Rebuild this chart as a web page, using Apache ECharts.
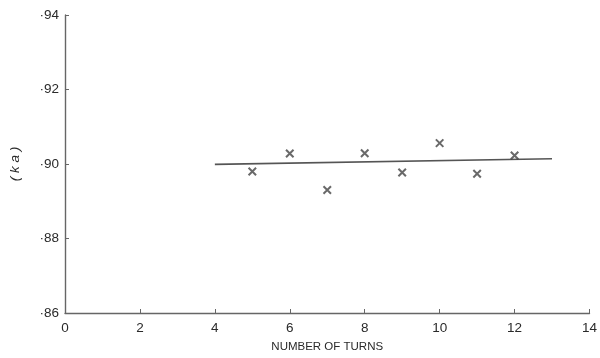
<!DOCTYPE html>
<html>
<head>
<meta charset="utf-8">
<script src="https://cdn.jsdelivr.net/npm/echarts@6/dist/echarts.min.js"></script>
<style>
  html, body { margin: 0; padding: 0; background: #fff; }
  #chart { width: 600px; height: 358px; }
</style>
</head>
<body>
<div id="chart"></div>
<script>
// Measured points: turns vs ka
const turns = [5, 6, 7, 8, 9, 10, 11, 12];
const kaValues = [0.8980, 0.9028, 0.8930, 0.9029, 0.8977, 0.9056, 0.8974, 0.9023];
// Fitted straight line end points
const fitTurns = [4, 13];
const fitKa = [0.8999, 0.9014];
// Axis ranges
const xTicks = [0, 14, 2];
const yTicks = [0.86, 0.94, 0.02];

const ink = '#444';
const crossPath = 'path://M0,0L10,10M10,0L0,10';

const chart = echarts.init(document.getElementById('chart'));
chart.setOption({
  animation: false,
  backgroundColor: '#fff',
  grid: { left: 65, right: 9, top: 15, bottom: 44 },
  xAxis: {
    type: 'value',
    min: xTicks[0], max: xTicks[1], interval: xTicks[2],
    name: 'NUMBER OF TURNS',
    nameLocation: 'middle',
    nameGap: 28,
    nameTextStyle: { color: '#2a2a2a', fontFamily: 'Liberation Sans', fontSize: 11.5 },
    axisLine: { lineStyle: { color: '#666', width: 1.4 } },
    axisTick: { inside: true, length: 4, lineStyle: { color: '#666' } },
    axisLabel: { color: '#2a2a2a', fontFamily: 'Liberation Sans', fontSize: 13.5, margin: 8 },
    splitLine: { show: false }
  },
  yAxis: {
    type: 'value',
    min: yTicks[0], max: yTicks[1], interval: yTicks[2],
    name: '( k a )',
    nameLocation: 'middle',
    nameGap: 43,
    nameRotate: 90,
    nameTextStyle: { color: '#2a2a2a', fontFamily: 'Liberation Sans', fontSize: 13.5, fontStyle: 'italic' },
    axisLine: { show: true, lineStyle: { color: '#666', width: 1.4 } },
    axisTick: { show: true, inside: true, length: 4, lineStyle: { color: '#666' } },
    axisLabel: {
      color: '#2a2a2a', fontFamily: 'Liberation Sans', fontSize: 13.5, margin: 6,
      formatter: v => '·' + Math.round(v * 100)
    },
    splitLine: { show: false }
  },
  series: [
    {
      type: 'line',
      data: fitTurns.map((t, i) => [t, fitKa[i]]),
      showSymbol: false,
      lineStyle: { color: '#555', width: 1.6 },
      z: 2
    },
    {
      type: 'scatter',
      data: turns.map((t, i) => [t, kaValues[i]]),
      symbol: crossPath,
      symbolSize: 7.5,
      itemStyle: { color: 'rgba(0,0,0,0)', borderColor: ink, borderWidth: 2 },
      z: 3
    }
  ]
});
</script>
</body>
</html>
